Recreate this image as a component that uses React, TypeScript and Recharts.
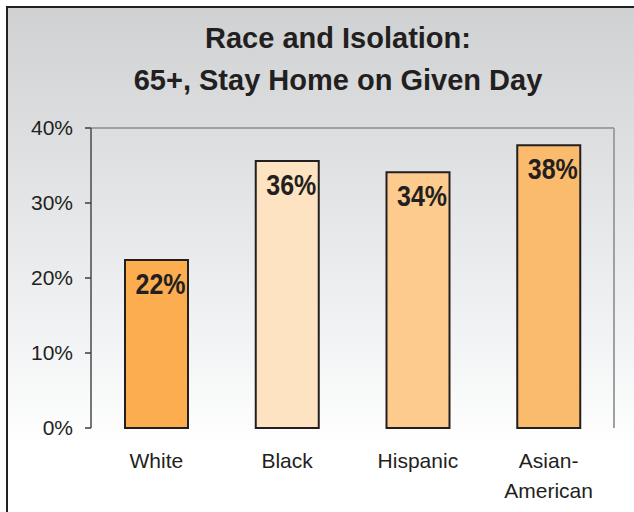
import React from 'react';
import {
  BarChart,
  Bar,
  XAxis,
  YAxis,
  Cell,
  LabelList,
  CartesianGrid,
} from 'recharts';

// values
const categories = ['White', 'Black', 'Hispanic', 'Asian-American'];
const shares = [22.4, 35.6, 34.1, 37.7];
const barLabels = ['22%', '36%', '34%', '38%'];
const barColors = ['#fbad50', '#fee3c2', '#fecb8e', '#fbbb6d'];
const yTicks = [0, 10, 20, 30, 40];
const edgeTicks = [0, 1, 2, 3, 4];

const data = categories.map((name, i) => ({ name, share: shares[i], label: barLabels[i] }));

const ink = '#231f20';
const font = "'Liberation Sans', Arial, sans-serif";

// category label, broken after a hyphen like "Asian-" / "American"
const CategoryTick = (props: any) => {
  const { x, y, payload } = props;
  const lines = String(payload.value).split(/(?<=-)/);
  return (
    <text x={x} y={y} textAnchor="middle" fill={ink} fontSize={21} fontFamily={font}>
      {lines.map((line: string, i: number) => (
        <tspan key={i} x={x} dy={i === 0 ? 40 : 30}>
          {line}
        </tspan>
      ))}
    </text>
  );
};

// bold value inside the bar top, squeezed a little like a narrow face
const BarValue = (props: any) => {
  const { x, y, width, value } = props;
  return (
    <text
      transform={`translate(${x + width / 2 + 4}, ${y + 34}) scale(1, 1.15)`}
      textAnchor="middle"
      fill={ink}
      fontSize={25}
      fontWeight="bold"
      fontFamily={font}
    >
      {value}
    </text>
  );
};

export default function App() {
  return (
    <div style={{ position: 'absolute', left: 0, top: 0, width: 634, height: 512, overflow: 'hidden', background: '#fff' }}>
      <div
        style={{
          position: 'absolute',
          left: 6,
          top: 6,
          width: 700,
          height: 600,
          borderLeft: `2px solid ${ink}`,
          borderTop: `2px solid ${ink}`,
          background: 'linear-gradient(to bottom, #cfd1d3 0px, #eef0f1 300px, #ffffff 440px)',
        }}
      />
      <div
        style={{
          position: 'absolute',
          left: 0,
          top: 17,
          width: 676,
          textAlign: 'center',
          fontFamily: font,
          fontWeight: 'bold',
          fontSize: 29,
          lineHeight: '42px',
          color: ink,
        }}
      >
        Race and Isolation:
        <br />
        65+, Stay Home on Given Day
      </div>
      <div style={{ position: 'absolute', left: 0, top: 0 }}>
        <BarChart
          width={634}
          height={512}
          data={data}
          margin={{ top: 128, right: 20, left: 31, bottom: 24 }}
          style={{ fontFamily: font }}
        >
          {/* plot frame: top and right edges only */}
          <CartesianGrid
            stroke="#9ba1a6"
            strokeWidth={2}
            horizontalCoordinatesGenerator={({ offset }: any) => [offset.top]}
            verticalCoordinatesGenerator={({ offset }: any) => [offset.left + offset.width]}
          />
          <XAxis
            xAxisId="edges"
            type="number"
            domain={[0, 4]}
            ticks={edgeTicks}
            allowDataOverflow
            height={0}
            tick={false}
            tickSize={6}
            tickLine={{ stroke: '#3c3c3c', strokeWidth: 1.5 }}
            axisLine={{ stroke: '#3c3c3c', strokeWidth: 1.5 }}
          />
          <XAxis
            dataKey="name"
            interval={0}
            height={60}
            tickSize={0}
            tickMargin={0}
            tickLine={false}
            axisLine={false}
            tick={<CategoryTick />}
          />
          <YAxis
            domain={[0, 40]}
            ticks={yTicks}
            width={60}
            tickFormatter={(v: number) => `${v}%`}
            tick={{ fill: ink, fontSize: 21, fontFamily: font }}
            tickSize={6}
            tickMargin={12}
            tickLine={{ stroke: '#3c3c3c', strokeWidth: 1.5 }}
            axisLine={{ stroke: '#4a4a4a', strokeWidth: 1.5 }}
          />
          <Bar dataKey="share" barSize={63} stroke={ink} strokeWidth={2} isAnimationActive={false}>
            {data.map((d, i) => (
              <Cell key={d.name} fill={barColors[i]} />
            ))}
            <LabelList dataKey="label" content={<BarValue />} />
          </Bar>
        </BarChart>
      </div>
    </div>
  );
}
